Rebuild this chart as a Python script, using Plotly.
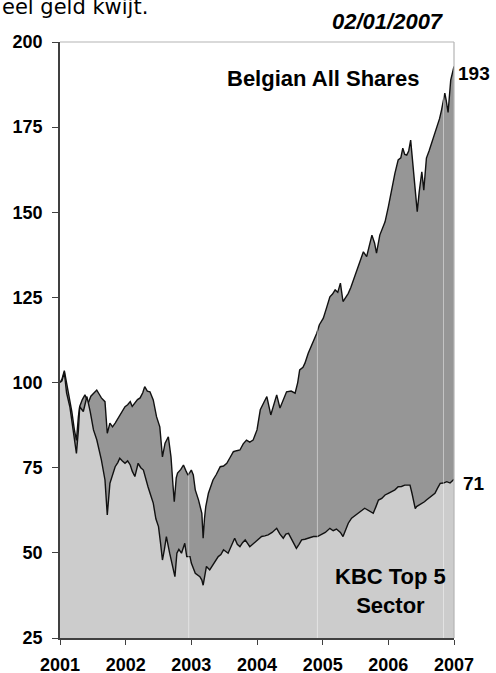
import plotly.graph_objects as go

# ---- data (decimal years, index values) ----
bas_dates = [2001.00, 2001.03, 2001.066, 2001.10, 2001.127, 2001.18, 2001.22, 2001.25, 2001.28, 2001.30,
             2001.34, 2001.38, 2001.43, 2001.47, 2001.52, 2001.56, 2001.60, 2001.63, 2001.685, 2001.70,
             2001.72, 2001.76, 2001.80, 2001.84, 2001.88, 2001.91, 2001.95, 2001.99, 2002.03, 2002.07,
             2002.10, 2002.14, 2002.18, 2002.22, 2002.26, 2002.29, 2002.33, 2002.37, 2002.42, 2002.47,
             2002.52, 2002.56, 2002.60, 2002.65, 2002.69, 2002.72, 2002.74, 2002.77, 2002.79, 2002.84,
             2002.88, 2002.92, 2002.95, 2003.00, 2003.03, 2003.06, 2003.11, 2003.16, 2003.18, 2003.20,
             2003.22, 2003.26, 2003.30, 2003.33, 2003.38, 2003.44, 2003.49, 2003.54, 2003.59, 2003.64,
             2003.69, 2003.74, 2003.79, 2003.84, 2003.89, 2003.94, 2004.00, 2004.05, 2004.10, 2004.15,
             2004.21, 2004.26, 2004.30, 2004.35, 2004.40, 2004.45, 2004.52, 2004.58, 2004.62, 2004.65,
             2004.70, 2004.73, 2004.78, 2004.82, 2004.86, 2004.91, 2004.95, 2005.01, 2005.06, 2005.11,
             2005.15, 2005.19, 2005.23, 2005.27, 2005.31, 2005.35, 2005.39, 2005.43, 2005.47, 2005.50,
             2005.54, 2005.58, 2005.62, 2005.67, 2005.71, 2005.75, 2005.79, 2005.82, 2005.87, 2005.91,
             2005.95, 2006.00, 2006.05, 2006.10, 2006.15, 2006.19, 2006.22, 2006.25, 2006.28, 2006.31,
             2006.34, 2006.38, 2006.41, 2006.44, 2006.47, 2006.51, 2006.54, 2006.58, 2006.62, 2006.66,
             2006.70, 2006.74, 2006.78, 2006.81, 2006.86, 2006.88, 2006.91, 2006.95, 2007.00]
bas_values = [100.0, 101.0, 103.5, 100.0, 97.8, 91.5, 86.0, 83.0, 90.0, 93.0,
              95.0, 96.4, 94.0, 96.0, 97.0, 97.8, 96.5, 95.5, 94.4, 90.0,
              85.1, 88.1, 87.0, 88.1, 89.5, 90.5, 91.5, 92.9, 93.5, 94.4,
              93.0, 94.0, 95.0, 95.5, 97.0, 98.8, 97.5, 97.3, 94.9, 90.0,
              87.0, 78.2, 82.2, 84.1, 78.2, 70.0, 65.0, 72.0, 73.4, 74.5,
              75.8, 74.0, 72.8, 74.3, 72.9, 68.5, 65.5, 61.6, 54.3, 60.0,
              63.6, 67.5, 70.0, 71.4, 73.0, 75.3, 75.5, 76.3, 78.0, 79.7,
              80.0, 80.2, 82.0, 83.1, 82.5, 83.1, 86.1, 92.0, 94.0, 95.9,
              90.5, 94.0, 96.4, 92.5, 95.0, 97.3, 97.5, 96.9, 100.0, 103.7,
              104.5, 105.7, 108.6, 110.5, 112.5, 114.5, 117.0, 118.9, 122.0, 125.2,
              126.0, 127.2, 126.5, 129.2, 123.8, 125.0, 126.2, 128.0, 130.1, 131.5,
              133.6, 136.0, 138.4, 137.0, 140.0, 143.3, 141.0, 138.0, 143.3, 145.0,
              147.2, 151.6, 157.0, 161.4, 165.4, 166.0, 168.8, 167.0, 166.8, 168.0,
              171.2, 162.4, 154.6, 150.2, 156.0, 161.9, 156.5, 165.9, 168.0, 170.3,
              173.0, 175.1, 177.5, 180.0, 185.0, 183.0, 179.3, 188.8, 192.8]

kbc_dates = [2001.00, 2001.03, 2001.066, 2001.10, 2001.15, 2001.20, 2001.25, 2001.28, 2001.30, 2001.355,
             2001.41, 2001.46, 2001.51, 2001.56, 2001.60, 2001.63, 2001.685, 2001.72, 2001.76, 2001.80,
             2001.84, 2001.88, 2001.91, 2001.95, 2001.99, 2002.03, 2002.07, 2002.10, 2002.14, 2002.19,
             2002.23, 2002.27, 2002.30, 2002.34, 2002.38, 2002.42, 2002.46, 2002.50, 2002.53, 2002.56,
             2002.59, 2002.62, 2002.67, 2002.70, 2002.725, 2002.75, 2002.78, 2002.81, 2002.85, 2002.90,
             2002.93, 2002.98, 2003.00, 2003.06, 2003.13, 2003.16, 2003.18, 2003.20, 2003.23, 2003.28,
             2003.33, 2003.37, 2003.41, 2003.45, 2003.49, 2003.56, 2003.61, 2003.66, 2003.70, 2003.74,
             2003.78, 2003.82, 2003.89, 2003.93, 2003.97, 2004.02, 2004.07, 2004.12, 2004.17, 2004.23,
             2004.30, 2004.35, 2004.40, 2004.44, 2004.48, 2004.54, 2004.60, 2004.64, 2004.68, 2004.73,
             2004.78, 2004.82, 2004.86, 2004.92, 2004.98, 2005.04, 2005.11, 2005.16, 2005.21, 2005.27,
             2005.31, 2005.35, 2005.39, 2005.44, 2005.49, 2005.54, 2005.57, 2005.60, 2005.64, 2005.70,
             2005.77, 2005.81, 2005.85, 2005.90, 2005.95, 2006.00, 2006.05, 2006.10, 2006.15, 2006.20,
             2006.25, 2006.30, 2006.33, 2006.36, 2006.38, 2006.41, 2006.43, 2006.47, 2006.51, 2006.55,
             2006.58, 2006.64, 2006.71, 2006.75, 2006.79, 2006.84, 2006.89, 2006.94, 2007.00]
kbc_values = [100.0, 100.5, 103.0, 97.0, 92.9, 86.1, 79.2, 86.0, 92.9, 91.5,
              95.9, 91.5, 86.1, 83.2, 80.0, 77.3, 71.4, 61.1, 70.4, 73.0,
              75.3, 76.5, 77.8, 77.0, 76.3, 77.0, 75.8, 74.0, 72.4, 76.3,
              75.0, 74.3, 72.0, 69.4, 67.0, 64.6, 60.0, 57.7, 53.0, 47.9,
              51.0, 54.8, 49.9, 47.0, 45.0, 43.0, 49.9, 51.0, 49.9, 52.8,
              48.9, 48.9, 47.0, 44.0, 43.0, 42.0, 40.5, 43.0, 46.0, 45.0,
              46.4, 47.5, 48.9, 49.5, 50.9, 49.9, 52.0, 54.3, 52.5, 51.8,
              53.0, 53.8, 51.8, 52.5, 53.3, 54.0, 54.8, 55.0, 55.3, 56.0,
              57.2, 55.5, 54.3, 55.5, 55.7, 53.5, 51.3, 52.5, 53.8, 54.0,
              54.3, 54.5, 54.8, 54.8, 55.5, 56.0, 57.2, 56.5, 57.0, 56.0,
              54.8, 57.0, 58.7, 60.2, 61.0, 61.6, 62.1, 62.5, 63.1, 62.5,
              61.6, 63.5, 65.5, 66.0, 67.0, 67.5, 68.0, 68.5, 69.4, 69.5,
              69.9, 70.0, 69.9, 67.5, 65.5, 63.0, 63.6, 64.0, 64.6, 65.0,
              65.5, 66.5, 67.5, 69.0, 70.4, 70.5, 70.9, 70.5, 71.6]

year_ticks = [2001, 2002, 2003, 2004, 2005, 2006, 2007]
year_labels = ["2001", "2002", "2003", "2004", "2005", "2006", "2007"]
y_ticks = [25, 50, 75, 100, 125, 150, 175, 200]
y_labels = ["25", "50", "75", "100", "125", "150", "175", "200"]
faint_lines = [2002.96, 2004.92, 2006.84]

FONT = "Liberation Sans, Arial, sans-serif"

fig = go.Figure()
fig.add_trace(go.Scatter(
    x=bas_dates, y=bas_values, mode="lines", fill="tozeroy",
    fillcolor="#969696", line=dict(color="#111111", width=1.4),
    name="Belgian All Shares", hoverinfo="skip"))
fig.add_trace(go.Scatter(
    x=kbc_dates, y=kbc_values, mode="lines", fill="tozeroy",
    fillcolor="#cccccc", line=dict(color="#111111", width=1.4),
    name="KBC Top 5 Sector", hoverinfo="skip"))

shapes = []
for fx in faint_lines:
    shapes.append(dict(type="line", xref="x", yref="paper", x0=fx, x1=fx, y0=0, y1=1,
                       line=dict(color="rgba(255,255,255,0.45)", width=1), layer="above"))
shapes.append(dict(type="line", xref="paper", yref="paper", x0=0, x1=1, y0=1, y1=1,
                   line=dict(color="#b4b4b4", width=1.2), layer="above"))
shapes.append(dict(type="line", xref="paper", yref="paper", x0=1, x1=1, y0=0, y1=1,
                   line=dict(color="#b4b4b4", width=1.2), layer="above"))

# pixel helpers for annotation placement (plot area 60..454 x, 42..638 y)
def px(xp):
    return (xp - 60) / 394.0

def py(yp):
    return (638 - yp) / 596.0

annotations = [
    dict(text="eel geld kwijt.", x=px(0), y=py(7), xanchor="left", yanchor="middle",
         font=dict(family="DejaVu Sans, Verdana, sans-serif", size=21, color="#000")),
    dict(text="<b><i>02/01/2007</i></b>", x=px(446), y=py(22), xanchor="right", yanchor="middle",
         font=dict(family=FONT, size=22, color="#000")),
    dict(text="<b>Belgian All Shares</b>", x=px(421), y=py(78), xanchor="right", yanchor="middle",
         font=dict(family=FONT, size=22, color="#000")),
    dict(text="<b>193</b>", x=px(456), y=py(73), xanchor="left", yanchor="middle",
         font=dict(family=FONT, size=19, color="#000")),
    dict(text="<b>71</b>", x=px(461), y=py(483), xanchor="left", yanchor="middle",
         font=dict(family=FONT, size=19, color="#000")),
    dict(text="<b>KBC Top 5<br>Sector</b>", x=px(390), y=py(591), xanchor="center", yanchor="middle",
         align="center", font=dict(family=FONT, size=22, color="#000")),
]
for a in annotations:
    a.update(xref="paper", yref="paper", showarrow=False)

fig.update_layout(
    width=496, height=673, autosize=False,
    margin=dict(l=60, r=42, t=42, b=35, pad=0),
    paper_bgcolor="white", plot_bgcolor="white",
    showlegend=False,
    shapes=shapes, annotations=annotations,
    xaxis=dict(range=[2001, 2007], tickmode="array", tickvals=year_ticks,
               ticktext=["<b>%s</b>" % t for t in year_labels], automargin=False,
               showgrid=False, zeroline=False, showline=True, linecolor="#404040", linewidth=1.5,
               ticks="outside", ticklen=5, tickcolor="#404040", tickwidth=1.2,
               ticklabelstandoff=5,
               tickfont=dict(family=FONT, size=18, color="#000")),
    yaxis=dict(range=[25, 200], tickmode="array", tickvals=y_ticks,
               ticktext=["<b>%s</b>" % t for t in y_labels], automargin=False,
               showgrid=False, zeroline=False, showline=True, linecolor="#404040", linewidth=1.5,
               ticks="outside", ticklen=6, tickcolor="#404040", tickwidth=1.2,
               ticklabelstandoff=6,
               tickfont=dict(family=FONT, size=18, color="#000")),
)

# remove the default page margin so the figure fills the window exactly
fig.write_html("out.html",
               config={"displayModeBar": False},
               post_script="document.body.style.margin='0';document.body.style.overflow='hidden';")
